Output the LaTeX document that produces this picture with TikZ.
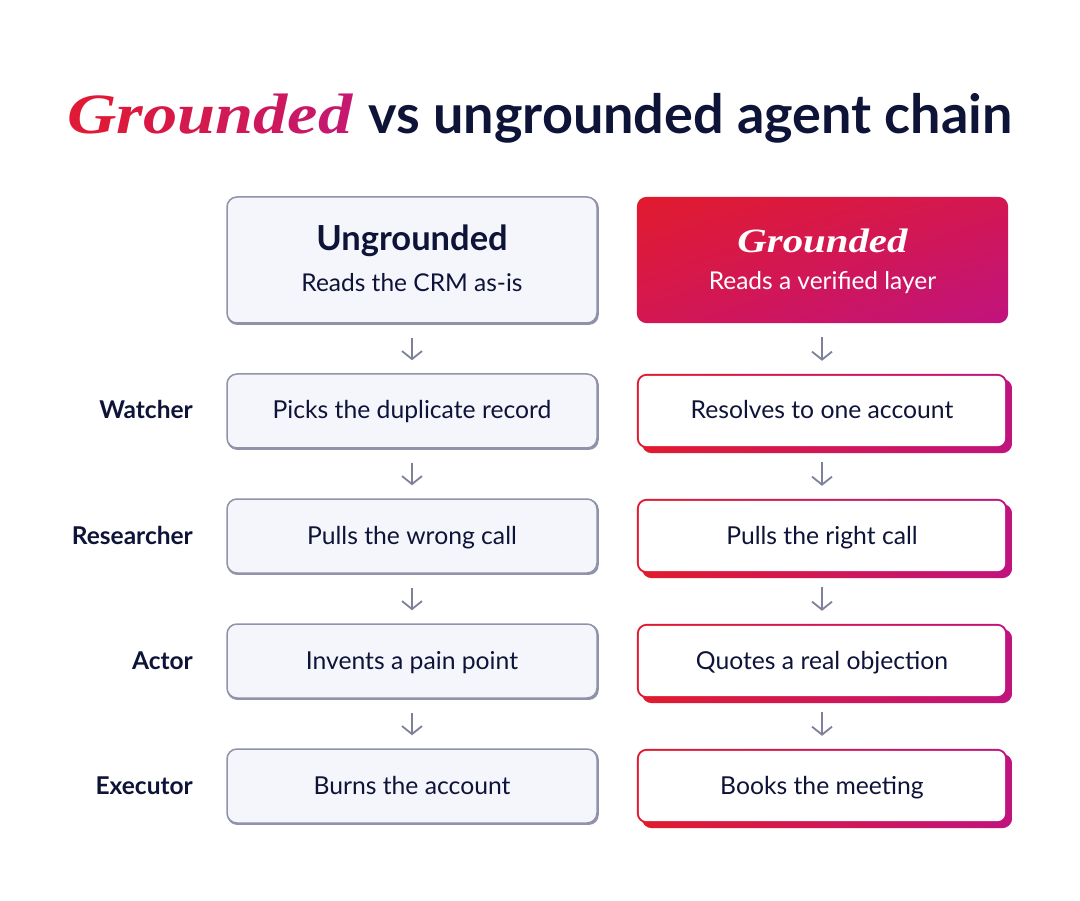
\documentclass[tikz,border=0pt]{standalone}
\usepackage{fontspec}
\setmainfont{Lato}
\newfontfamily\serifit[FakeStretch=1.2]{Liberation Serif}
\usetikzlibrary{arrows.meta,shadings}
\definecolor{navy}{HTML}{0E1338}
\definecolor{lfill}{HTML}{F5F6FC}
\definecolor{lborder}{HTML}{9092AA}
\definecolor{arrowc}{HTML}{7E8199}
\definecolor{gA}{HTML}{E11B2E}
\definecolor{gB}{HTML}{C0137E}
\definecolor{gM}{HTML}{D31752}
\definecolor{tA}{HTML}{E01A36}
\definecolor{tB}{HTML}{C5186E}
\pgfdeclarelayer{back}\pgfdeclarelayer{bg}\pgfsetlayers{back,bg,main}
\newcommand\gl[2]{\textcolor{tA!#1!tB}{#2}}
\newcommand\gradbox[1]{%
  \begin{pgfonlayer}{bg}
    \shade[rounded corners=10pt,left color=gA,right color=gB]
      ([shift={(5,5)}]#1.north west) rectangle ([shift={(5,5)}]#1.south east);
    \shade[rounded corners=10pt,left color=gA,right color=gB]
      (#1.north west) rectangle (#1.south east);
    \fill[white,rounded corners=8pt]
      ([shift={(2,2)}]#1.north west) rectangle ([shift={(-2,-2)}]#1.south east);
  \end{pgfonlayer}}
\newcommand\greybox[1]{%
  \begin{pgfonlayer}{bg}
    \fill[lborder,rounded corners=10pt]
      ([shift={(1,1.2)}]#1.north west) rectangle ([shift={(1,1.2)}]#1.south east);
  \end{pgfonlayer}}
\tikzset{
  lbox/.style={draw=lborder,fill=lfill,line width=1.5pt,rounded corners=10pt,
    minimum width=370pt,minimum height=74pt,inner sep=0pt,text=navy,
    text height=16pt,text depth=0pt,
    font=\fontsize{24.7}{30}\selectfont},
  rbox/.style={minimum width=370pt,minimum height=74pt,inner sep=0pt,text=navy,
    text height=16pt,text depth=0pt,
    font=\fontsize{24.7}{30}\selectfont},
  lab/.style={anchor=east,text=navy,inner sep=0pt,text height=16pt,text depth=0pt,
    font=\fontsize{24.5}{30}\selectfont\bfseries},
  arr/.style={draw=arrowc,line width=1.8pt,shorten <=14pt,shorten >=13pt,
    -{Straight Barb[length=8pt,width=20pt,line width=1.8pt]}},
  htitle/.style={inner sep=0pt,font=\fontsize{34.5}{40}\selectfont\bfseries},
  hsub/.style={inner sep=0pt,font=\fontsize{24.5}{30}\selectfont},
}
\begin{document}
\begin{tikzpicture}[x=1pt,y=-1pt]
\begin{pgfonlayer}{back}
\fill[white] (0,0) rectangle (1080,901);
\end{pgfonlayer}
\useasboundingbox (0,0) rectangle (1080,901);

% title
\node[inner sep=0pt,text=navy,font=\fontsize{54}{60}\selectfont] (title) at (540,118)
  {{\serifit\fontsize{57}{60}\selectfont\bfseries\itshape\gl{100}{G}\gl{86}{r}\gl{71}{o}\gl{57}{u}\gl{43}{n}\gl{29}{d}\gl{14}{e}\gl{0}{d}}\hspace{0.3em}{\bfseries vs ungrounded agent chain}};

% headers
\node[lbox,minimum height=126pt] (hL) at (412,260) {};
\greybox{hL}
\node[htitle,text=navy] (hLt) at (412,241) {Ungrounded};
\node[hsub,text=navy] (hLs) at (412,283) {Reads the CRM as-is};

\node[minimum width=371pt,minimum height=126pt,inner sep=0pt] (hR) at (822.5,260) {};
\begin{pgfonlayer}{bg}
\shade[rounded corners=10pt,upper left=gA,upper right=gM,lower left=gM,lower right=gB]
  (hR.north west) rectangle (hR.south east);
\end{pgfonlayer}
\node[inner sep=0pt,text=white,font=\fontsize{34}{40}\selectfont\serifit\bfseries\itshape] (hRt) at (822.5,241) {Grounded};
\node[hsub,text=white] (hRs) at (822.5,283) {Reads a verified layer};

% rows left
\node[lbox] (l1) at (412,411) {Picks the duplicate record};
\node[lbox] (l2) at (412,536) {Pulls the wrong call};
\node[lbox] (l3) at (412,661) {Invents a pain point};
\node[lbox] (l4) at (412,786) {Burns the account};
\greybox{l1}\greybox{l2}\greybox{l3}\greybox{l4}

% rows right
\node[rbox] (r1) at (822,411) {Resolves to one account};
\node[rbox] (r2) at (822,536) {Pulls the right call};
\node[rbox] (r3) at (822,661) {Quotes a real objection};
\node[rbox] (r4) at (822,786) {Books the meeting};
\gradbox{r1}\gradbox{r2}\gradbox{r3}\gradbox{r4}

% labels
\node[lab] (a1) at (193,411) {Watcher};
\node[lab] (a2) at (193,536) {Researcher};
\node[lab] (a3) at (193,661) {Actor};
\node[lab] (a4) at (193,786) {Executor};

% arrows
\draw[arr] (hL) -- (l1);
\draw[arr] (l1) -- (l2);
\draw[arr] (l2) -- (l3);
\draw[arr] (l3) -- (l4);
\draw[arr] (hR.south -| r1) -- (r1.north);
\draw[arr] (r1) -- (r2);
\draw[arr] (r2) -- (r3);
\draw[arr] (r3) -- (r4);
\end{tikzpicture}
\end{document}
